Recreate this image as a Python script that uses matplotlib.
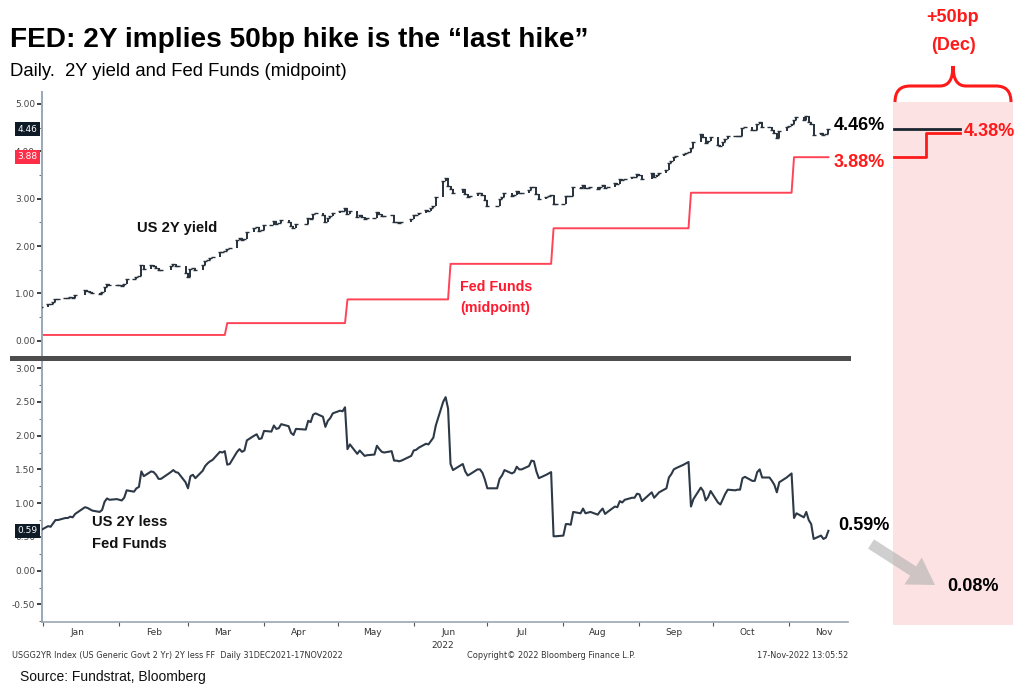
import numpy as np
import pandas as pd
import matplotlib
matplotlib.use("Agg")
import matplotlib.pyplot as plt
import matplotlib.transforms as mtransforms
from matplotlib.patches import Rectangle, PathPatch, FancyArrow
from matplotlib.path import Path
from matplotlib.lines import Line2D

# ---------------- data ----------------
spread_dates = [
    "2021-12-31", "2022-01-03", "2022-01-04", "2022-01-05", "2022-01-06", "2022-01-07",
    "2022-01-10", "2022-01-11", "2022-01-12", "2022-01-13", "2022-01-14", "2022-01-18",
    "2022-01-19", "2022-01-20", "2022-01-21", "2022-01-24", "2022-01-25", "2022-01-26",
    "2022-01-27", "2022-01-28", "2022-01-31", "2022-02-01", "2022-02-02", "2022-02-03",
    "2022-02-04", "2022-02-07", "2022-02-08", "2022-02-09", "2022-02-10", "2022-02-11",
    "2022-02-14", "2022-02-15", "2022-02-16", "2022-02-17", "2022-02-18", "2022-02-22",
    "2022-02-23", "2022-02-24", "2022-02-25", "2022-02-28", "2022-03-01", "2022-03-02",
    "2022-03-03", "2022-03-04", "2022-03-07", "2022-03-08", "2022-03-09", "2022-03-10",
    "2022-03-11", "2022-03-14", "2022-03-15", "2022-03-16", "2022-03-17", "2022-03-18",
    "2022-03-21", "2022-03-22", "2022-03-23", "2022-03-24", "2022-03-25", "2022-03-28",
    "2022-03-29", "2022-03-30", "2022-03-31", "2022-04-01", "2022-04-04", "2022-04-05",
    "2022-04-06", "2022-04-07", "2022-04-08", "2022-04-11", "2022-04-12", "2022-04-13",
    "2022-04-14", "2022-04-18", "2022-04-19", "2022-04-20", "2022-04-21", "2022-04-22",
    "2022-04-25", "2022-04-26", "2022-04-27", "2022-04-28", "2022-04-29", "2022-05-02",
    "2022-05-03", "2022-05-04", "2022-05-05", "2022-05-06", "2022-05-09", "2022-05-10",
    "2022-05-11", "2022-05-12", "2022-05-13", "2022-05-16", "2022-05-17", "2022-05-18",
    "2022-05-19", "2022-05-20", "2022-05-23", "2022-05-24", "2022-05-25", "2022-05-26",
    "2022-05-27", "2022-05-31", "2022-06-01", "2022-06-02", "2022-06-03", "2022-06-06",
    "2022-06-07", "2022-06-08", "2022-06-09", "2022-06-10", "2022-06-13", "2022-06-14",
    "2022-06-15", "2022-06-16", "2022-06-17", "2022-06-21", "2022-06-22", "2022-06-23",
    "2022-06-24", "2022-06-27", "2022-06-28", "2022-06-29", "2022-06-30", "2022-07-01",
    "2022-07-05", "2022-07-06", "2022-07-07", "2022-07-08", "2022-07-11", "2022-07-12",
    "2022-07-13", "2022-07-14", "2022-07-15", "2022-07-18", "2022-07-19", "2022-07-20",
    "2022-07-21", "2022-07-22", "2022-07-25", "2022-07-26", "2022-07-27", "2022-07-28",
    "2022-07-29", "2022-08-01", "2022-08-02", "2022-08-03", "2022-08-04", "2022-08-05",
    "2022-08-08", "2022-08-09", "2022-08-10", "2022-08-11", "2022-08-12", "2022-08-15",
    "2022-08-16", "2022-08-17", "2022-08-18", "2022-08-19", "2022-08-22", "2022-08-23",
    "2022-08-24", "2022-08-25", "2022-08-26", "2022-08-29", "2022-08-30", "2022-08-31",
    "2022-09-01", "2022-09-02", "2022-09-06", "2022-09-07", "2022-09-08", "2022-09-09",
    "2022-09-12", "2022-09-13", "2022-09-14", "2022-09-15", "2022-09-16", "2022-09-19",
    "2022-09-20", "2022-09-21", "2022-09-22", "2022-09-23", "2022-09-26", "2022-09-27",
    "2022-09-28", "2022-09-29", "2022-09-30", "2022-10-03", "2022-10-04", "2022-10-05",
    "2022-10-06", "2022-10-07", "2022-10-10", "2022-10-11", "2022-10-12", "2022-10-13",
    "2022-10-14", "2022-10-17", "2022-10-18", "2022-10-19", "2022-10-20", "2022-10-21",
    "2022-10-24", "2022-10-25", "2022-10-26", "2022-10-27", "2022-10-28", "2022-10-31",
    "2022-11-01", "2022-11-02", "2022-11-03", "2022-11-04", "2022-11-07", "2022-11-08",
    "2022-11-09", "2022-11-10", "2022-11-11", "2022-11-14", "2022-11-15", "2022-11-16",
    "2022-11-17",
]
# US 2Y less Fed Funds (midpoint), %
spread_vals = [
    0.60, 0.66, 0.65, 0.70, 0.75, 0.75,
    0.78, 0.78, 0.80, 0.79, 0.84, 0.94,
    0.93, 0.91, 0.89, 0.87, 0.90, 1.02,
    1.07, 1.05, 1.06, 1.05, 1.04, 1.08,
    1.19, 1.17, 1.22, 1.24, 1.47, 1.40,
    1.47, 1.46, 1.42, 1.36, 1.36, 1.46,
    1.49, 1.46, 1.45, 1.31, 1.22, 1.40,
    1.42, 1.37, 1.48, 1.55, 1.59, 1.62,
    1.64, 1.76, 1.75, 1.77, 1.57, 1.58,
    1.76, 1.80, 1.76, 1.78, 1.93, 2.00,
    2.02, 1.95, 1.96, 2.07, 2.06, 2.15,
    2.10, 2.11, 2.17, 2.14, 2.04, 2.01,
    2.10, 2.09, 2.22, 2.20, 2.31, 2.33,
    2.28, 2.13, 2.22, 2.26, 2.33, 2.37,
    2.36, 2.42, 1.80, 1.87, 1.73, 1.78,
    1.74, 1.70, 1.71, 1.72, 1.85, 1.80,
    1.76, 1.75, 1.77, 1.63, 1.63, 1.62,
    1.63, 1.70, 1.78, 1.79, 1.82, 1.88,
    1.87, 1.92, 1.97, 2.15, 2.50, 2.57,
    2.40, 1.58, 1.49, 1.58, 1.47, 1.41,
    1.43, 1.50, 1.50, 1.45, 1.35, 1.22,
    1.22, 1.36, 1.41, 1.49, 1.44, 1.46,
    1.54, 1.50, 1.50, 1.55, 1.63, 1.62,
    1.47, 1.37, 1.42, 1.44, 1.46, 0.51,
    0.51, 0.52, 0.69, 0.69, 0.68, 0.87,
    0.85, 0.92, 0.85, 0.86, 0.87, 0.83,
    0.88, 0.92, 0.84, 0.87, 0.95, 0.94,
    1.03, 1.01, 1.05, 1.08, 1.08, 1.14,
    1.13, 1.03, 1.16, 1.08, 1.12, 1.16,
    1.22, 1.38, 1.43, 1.50, 1.52, 1.57,
    1.59, 1.61, 0.95, 1.06, 1.23, 1.18,
    1.04, 1.09, 1.18, 1.01, 0.98, 1.06,
    1.14, 1.20, 1.19, 1.20, 1.20, 1.37,
    1.39, 1.33, 1.33, 1.46, 1.50, 1.38,
    1.38, 1.33, 1.27, 1.16, 1.31, 1.38,
    1.41, 1.44, 0.78, 0.85, 0.79, 0.87,
    0.75, 0.69, 0.47, 0.52, 0.47, 0.49,
    0.59,
]
# Fed Funds target midpoint: effective dates and levels
ff_dates = ["2021-12-31", "2022-03-17", "2022-05-05", "2022-06-16",
            "2022-07-28", "2022-09-22", "2022-11-03"]
ff_levels = [0.125, 0.375, 0.875, 1.625, 2.375, 3.125, 3.875]

last_2y = 4.46
last_ff = 3.88
next_ff = 4.38
last_spread = 0.59
implied_spread = 0.08

month_labels = ["Jan", "Feb", "Mar", "Apr", "May", "Jun", "Jul", "Aug", "Sep", "Oct", "Nov"]

# ---------------- derived series ----------------
dates = pd.to_datetime(spread_dates)
spread = np.array(spread_vals)
ff_idx = pd.to_datetime(ff_dates)
ff = pd.Series(ff_levels, index=ff_idx).reindex(dates, method="ffill").values
y2 = spread + ff
opens = np.concatenate([[y2[0]], y2[:-1]])

# ---------------- figure ----------------
W, H = 1024, 687
fig = plt.figure(figsize=(W / 100, H / 100), dpi=100)
fig.patch.set_facecolor("white")
px = mtransforms.Affine2D().scale(1 / W, -1 / H).translate(0, 1) + fig.transFigure

NARROW = ["Liberation Sans Narrow", "Liberation Sans", "DejaVu Sans"]
ARIAL = ["Liberation Sans", "DejaVu Sans"]
BBG = ["DejaVu Sans"]

ax1 = fig.add_axes([42 / W, 1 - 357 / H, 806 / W, 265 / H])
ax2 = fig.add_axes([42 / W, 1 - 622 / H, 806 / W, 263 / H])

xmin = pd.Timestamp("2021-12-31 12:00")
xmax = pd.Timestamp("2022-11-25")

DARK = "#27313c"
FFC = "#ff4457"

# upper panel: 2Y yield as daily bars + Fed Funds
lo = np.minimum(opens, y2)
hi = np.maximum(opens, y2)
ax1.vlines(dates, lo, hi, color=DARK, lw=1.4, zorder=3)
ax1.plot(dates, y2, ls="none", marker="_", ms=2.4, mew=1.0, color=DARK, zorder=3)
ax1.plot(dates, ff, color=FFC, lw=1.4, zorder=2)

ax1.set_xlim(xmin, xmax)
ax1.set_ylim(-0.34, 5.25)
ax1.set_yticks([0, 1, 2, 3, 4, 5])
ax1.set_yticks(np.arange(0.5, 5.0, 1.0), minor=True)
ax1.yaxis.set_major_formatter(matplotlib.ticker.FormatStrFormatter("%.2f"))
ax1.set_xticks([])
for s in ["top", "right", "bottom"]:
    ax1.spines[s].set_visible(False)
ax1.spines["left"].set_color("#9aa7b4")
ax1.spines["left"].set_linewidth(1.4)

# lower panel: spread
ax2.plot(dates, spread, color="#2d3947", lw=1.5, zorder=3)
ax2.set_xlim(xmin, xmax)
ax2.set_ylim(-0.76, 3.135)
ax2.set_yticks(np.arange(-0.5, 3.01, 0.5))
ax2.set_yticks(np.arange(-0.75, 3.0, 0.5), minor=True)
ax2.yaxis.set_major_formatter(matplotlib.ticker.FormatStrFormatter("%.2f"))
for s in ["top", "right"]:
    ax2.spines[s].set_visible(False)
ax2.spines["left"].set_color("#9aa7b4")
ax2.spines["left"].set_linewidth(1.4)
ax2.spines["bottom"].set_color("#9aa7b4")
ax2.spines["bottom"].set_linewidth(1.2)

month_starts = pd.date_range("2022-01-01", "2022-11-01", freq="MS")
mid_months = month_starts + pd.Timedelta(days=14)
ax2.set_xticks(month_starts)
ax2.set_xticklabels([])
ax2.set_xticks(mid_months, minor=True)
ax2.set_xticklabels(month_labels, minor=True)
ax2.tick_params(axis="x", which="major", length=3, width=0.8, color="#555")
ax2.tick_params(axis="x", which="minor", length=0, pad=4, labelsize=6.5, labelcolor="#333")

for ax in (ax1, ax2):
    ax.tick_params(axis="y", which="major", direction="out", length=3.5, width=1.3,
                   color="#333", labelsize=6.5, labelcolor="#444", pad=1.5)
    ax.tick_params(axis="y", which="minor", direction="out", length=2, width=0.8, color="#777")
    ax.set_facecolor("white")
    for lab in ax.get_yticklabels() + ax.get_xticklabels(minor=True):
        lab.set_fontfamily(BBG)

# value tags on the y axes
def tag(ax, val, fc):
    tr = mtransforms.blended_transform_factory(ax.transAxes, ax.transData)
    ax.text(-0.006, val, f"{val:.2f}", transform=tr, ha="right", va="center",
            fontsize=6.5, color="white", family=BBG, zorder=10, clip_on=False,
            bbox=dict(boxstyle="square,pad=0.28", fc=fc, ec="none"))

tag(ax1, last_2y, "#0e1a26")
tag(ax1, last_ff, "#ff2e48")
tag(ax2, last_spread, "#0e1a26")

# separator between panels
fig.add_artist(Line2D([12, 848], [358, 358], transform=px, color="#4d4d4d", lw=3.6))

# in-chart labels
fig.text(137 / W, 1 - 228 / H, "US 2Y yield", fontsize=10.6,
         fontweight="bold", family=NARROW, color="#111", va="center", ha="left")
fig.text(460 / W, 1 - 287 / H, "Fed Funds", fontsize=10.3, fontweight="bold",
         family=NARROW, color="#ff1a2e", va="center", ha="left")
fig.text(460 / W, 1 - 308 / H, "(midpoint)", fontsize=10.3, fontweight="bold",
         family=NARROW, color="#ff1a2e", va="center", ha="left")
fig.text(92 / W, 1 - 522 / H, "US 2Y less", fontsize=10.6, fontweight="bold",
         family=NARROW, color="#111", va="center", ha="left")
fig.text(92 / W, 1 - 544 / H, "Fed Funds", fontsize=10.6, fontweight="bold",
         family=NARROW, color="#111", va="center", ha="left")

# title & subtitle
fig.text(10 / W, 1 - 40 / H, "FED: 2Y implies 50bp hike is the \u201clast hike\u201d",
         fontsize=20.2, fontweight="bold", family=NARROW, color="black", va="center", ha="left")
fig.text(10 / W, 1 - 72 / H, "Daily.  2Y yield and Fed Funds (midpoint)",
         fontsize=13.3, family=NARROW, color="black", va="center", ha="left")

# footer
fig.text(12 / W, 1 - 656 / H,
         "USGG2YR Index (US Generic Govt 2 Yr) 2Y less FF  Daily 31DEC2021-17NOV2022",
         fontsize=5.9, family=BBG, color="#333", va="center", ha="left")
fig.text(467 / W, 1 - 656 / H, "Copyright\u00a9 2022 Bloomberg Finance L.P.",
         fontsize=5.9, family=BBG, color="#333", va="center", ha="left")
fig.text(848 / W, 1 - 656 / H, "17-Nov-2022 13:05:52",
         fontsize=5.9, family=BBG, color="#333", va="center", ha="right")
fig.text(443 / W, 1 - 645 / H, "2022", fontsize=6.5, family=BBG, color="#333",
         va="center", ha="center")
fig.text(20 / W, 1 - 677 / H, "Source: Fundstrat, Bloomberg", fontsize=10,
         family=ARIAL, color="#111", va="center", ha="left")

# ---------------- right-hand annotation ----------------
fig.add_artist(Rectangle((893, 102), 120, 523, transform=px, fc="#fde2e3", ec="none", zorder=0))

brace = [(895, 102), (895, 86), (910, 86), (940, 86), (953, 86), (953, 66),
         (953, 86), (966, 86), (996, 86), (1011, 86), (1011, 102)]
codes = [Path.MOVETO, Path.CURVE3, Path.CURVE3, Path.LINETO, Path.CURVE3, Path.CURVE3,
         Path.CURVE3, Path.CURVE3, Path.LINETO, Path.CURVE3, Path.CURVE3]
fig.add_artist(PathPatch(Path(brace, codes), transform=px, fc="none", ec="#ff1a1a", lw=2.2))
fig.text(953 / W, 1 - 18 / H, "+50bp", fontsize=13, fontweight="bold", family=NARROW,
         color="#ff1a1a", ha="center", va="center")
fig.text(953 / W, 1 - 45 / H, "(Dec)", fontsize=13, fontweight="bold", family=NARROW,
         color="#ff1a1a", ha="center", va="center")

tr_up = mtransforms.blended_transform_factory(px, ax1.transData)
fig.add_artist(Line2D([894, 960], [last_2y, last_2y], transform=tr_up, color="#1b2530", lw=2.0))
fig.add_artist(Line2D([894, 926, 926, 960], [last_ff, last_ff, next_ff, next_ff],
                      transform=tr_up, color="#ff1a1a", lw=2.0))

def big(xp, val, ax, s, color):
    tr = mtransforms.blended_transform_factory(px, ax.transData)
    fig.text(xp, val, s, transform=tr, fontsize=13, fontweight="bold", family=NARROW,
             color=color, ha="left", va="center")

big(834, last_2y + 0.08, ax1, f"{last_2y:.2f}%", "black")
big(834, last_ff - 0.12, ax1, f"{last_ff:.2f}%", "#ff1a1a")
big(964, next_ff + 0.04, ax1, f"{next_ff:.2f}%", "#ff1a1a")
big(838, last_spread + 0.08, ax2, f"{last_spread:.2f}%", "black")
big(947, implied_spread - 0.32, ax2, f"{implied_spread:.2f}%", "black")

fig.add_artist(FancyArrow(871, 544, 64, 41, width=11, head_width=32, head_length=26,
                          length_includes_head=True, transform=px, fc="#b0b0b0",
                          ec="none", alpha=0.6))

fig.savefig("out.png", dpi=100, facecolor="white")
